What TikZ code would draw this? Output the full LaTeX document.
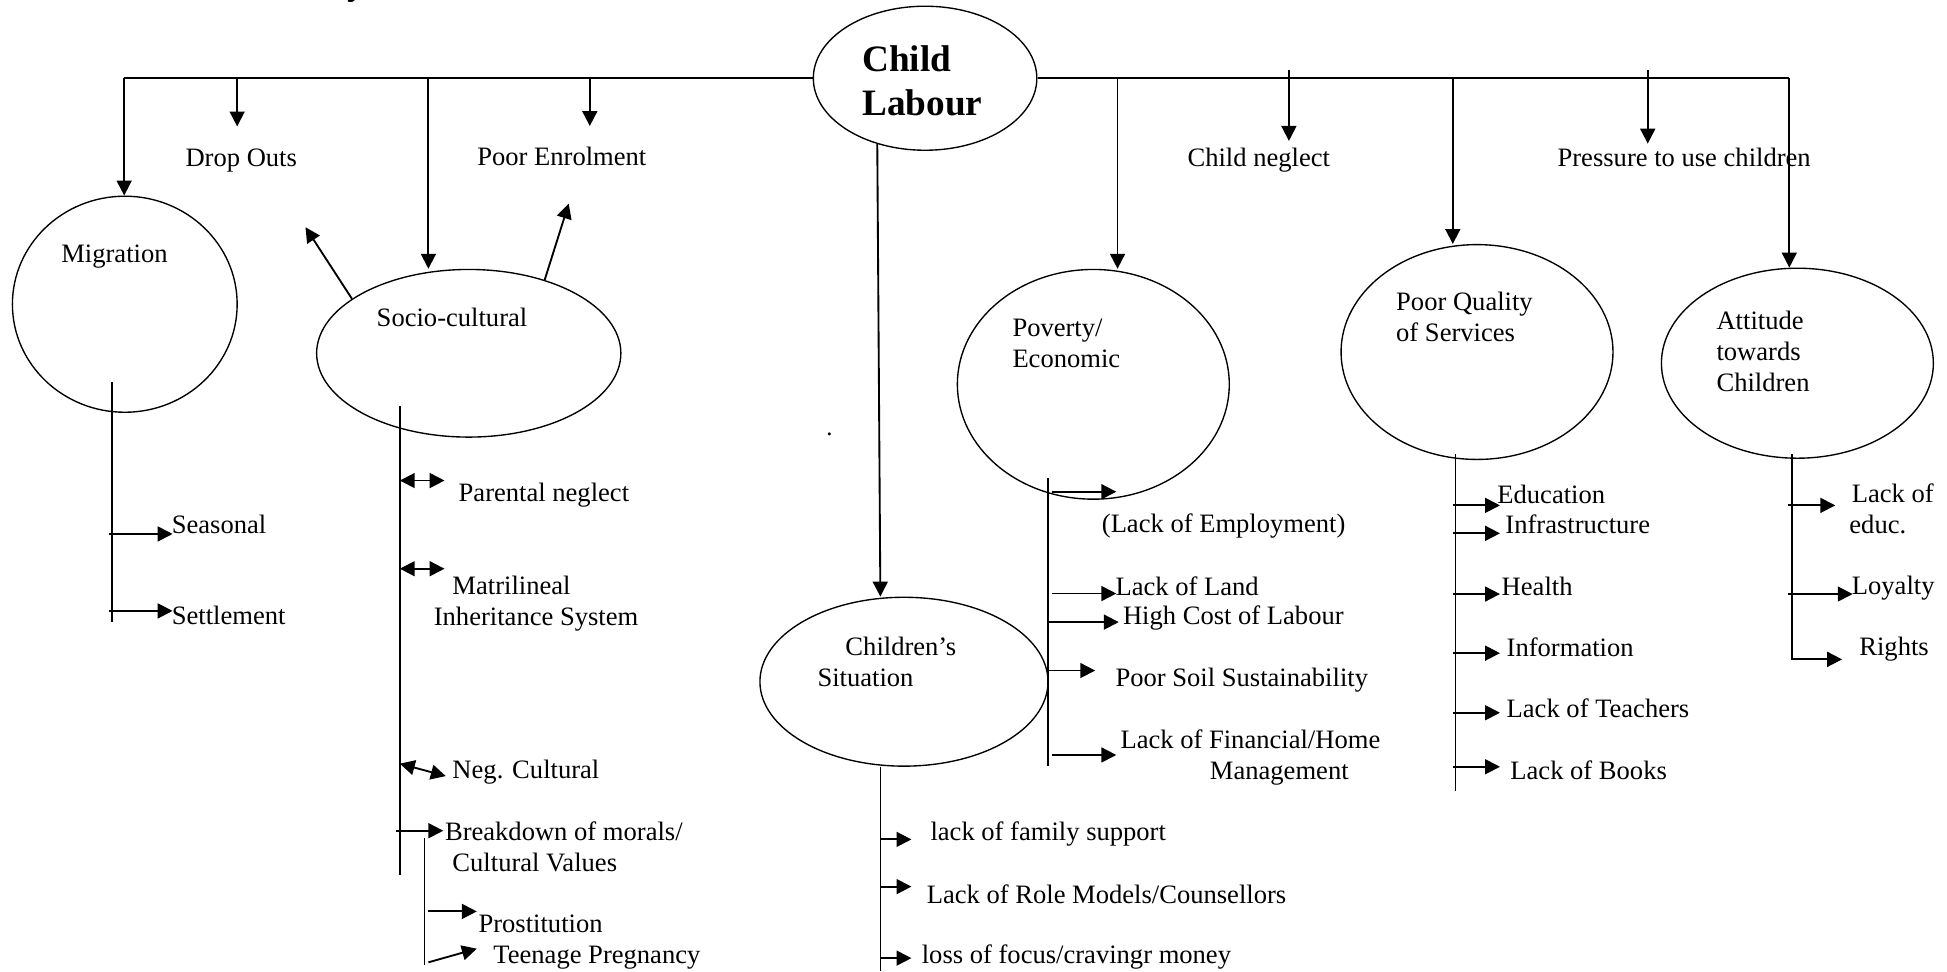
\documentclass[tikz,border=0pt]{standalone}
\usepackage{fontspec}
\setmainfont{Liberation Serif}
\usetikzlibrary{arrows.meta,shapes.geometric,positioning}

\begin{document}
\begin{tikzpicture}[x=0.5pt,y=-0.5pt,
  bubble/.style={draw,ellipse,line width=0.55pt,inner sep=0pt},
  lbl/.style={anchor=west,inner sep=0pt,align=left,font=\fontsize{10.7}{12.5}\selectfont},
  conn/.style={line width=0.75pt},
  spine/.style={line width=0.6pt},
  arr/.style={line width=0.75pt,-{Triangle[length=6pt,width=6pt]}},
  dblarr/.style={line width=0.75pt,{Triangle[length=6pt,width=6pt]}-{Triangle[length=6pt,width=6pt]}}]

\useasboundingbox (0,0) rectangle (1568,782);

\node[inner sep=0pt,anchor=base,font=\bfseries\fontsize{15}{18}\selectfont] (titlefrag) at (287,-4.5) {y};

\node[bubble,minimum width=90pt,minimum height=58pt] (cl) at (745,63) {};
\node[bubble,minimum width=90.5pt,minimum height=87pt] (mig) at (100.5,245) {};
\node[bubble,minimum width=122.5pt,minimum height=67.5pt] (soc) at (377.5,284.5) {};
\node[bubble,minimum width=109.5pt,minimum height=92.5pt] (pov) at (880.5,309.5) {};
\node[bubble,minimum width=109.5pt,minimum height=86.5pt] (qual) at (1189.5,283.5) {};
\node[bubble,minimum width=109.5pt,minimum height=76.5pt] (att) at (1447.5,292.5) {};
\node[bubble,minimum width=116pt,minimum height=68pt] (sit) at (728,549) {};

\node[lbl,font=\bfseries\fontsize{15}{18}\selectfont] (cllab) at (694,65) {Child\\Labour};
\node[lbl] (miglab) at (49,207) {Migration};
\node[lbl] (soclab) at (303,256) {Socio-cultural};
\node[lbl] (povlab) at (815,276.5) {Poverty/\\Economic};
\node[lbl] (quallab) at (1124,255) {Poor Quality\\of Services};
\node[lbl] (attlab) at (1382,283) {Attitude\\towards\\Children};
\node[lbl] (sitlab) at (658,533) {\hspace*{11.25pt}Children's\\Situation};

\node[lbl] (dropouts) at (149,129) {Drop Outs};
\node[lbl] (enrol) at (384,126) {Poor Enrolment};
\node[lbl] (neglect) at (956,129) {Child neglect};
\node[lbl] (pressure) at (1254,127) {Pressure to use children};

\coordinate (jmig) at (100,63);
\coordinate (jdrop) at (191,63);
\coordinate (jsoc) at (345,63);
\coordinate (jenrol) at (475,63);
\coordinate (jpov) at (900,63);
\coordinate (jneg) at (1038,56);
\coordinate (jqual) at (1170,63);
\coordinate (jpress) at (1327,56);
\coordinate (jatt) at (1441,63);

\draw[conn] (jmig) -- (cl.west) (cl.east) -- (jatt);
\draw[arr] (jmig) -- (jmig |- mig.north);
\draw[arr,shorten >=8.7pt] (jdrop) -- (jdrop |- dropouts.north);
\draw[arr] (jsoc) -- (jsoc |- soc.north);
\draw[arr,shorten >=8.3pt] (jenrol) -- (jenrol |- enrol.north);
\draw[arr] (jpov) -- (jpov |- pov.north);
\draw[arr,shorten >=2.7pt] (jneg) -- (jneg |- neglect.north);
\draw[arr] (jqual) -- (jqual |- qual.north);
\draw[arr,shorten >=1.7pt] (jpress) -- (jpress |- pressure.north);
\draw[arr] (jatt) -- (jatt |- att.north);
\draw[arr] (cl.234) -- ([xshift=-9.5pt]sit.north);

\coordinate (dropend) at (246,183);
\coordinate (enrolend) at (458,164);
\draw[arr] (soc.155) -- (dropend);
\draw[arr] (soc.44) -- (enrolend);

\node (dot) at (668,350) {.};

% migration
\coordinate (migs) at (90,308);
\coordinate (mige) at (90,501);
\draw[spine] (migs) -- (mige);
\foreach \y in {430,492}
  \draw[arr] (migs |- 0,\y) ++(-2,0) -- ++(51,0);
\node[lbl] (seasonal) at (138,422) {Seasonal};
\node[lbl] (settle) at (138,496) {Settlement};

% socio-cultural
\coordinate (socs) at (322,327);
\coordinate (soce) at (322,705);
\draw[spine] (socs) -- (soce);
\foreach \y in {387,458}
  \draw[dblarr] (socs |- 0,\y) -- ++(36,0);
\draw[dblarr] (socs |- 0,615) -- ++(37,10);
\draw[arr] (socs |- 0,669) ++(-3,0) -- ++(38,0);
\node[lbl] (parental) at (369,399) {Parental neglect};
\node[lbl] (matri) at (349,486) {\hspace*{7.5pt}Matrilineal\\Inheritance System};
\node[lbl] (negcult) at (364,622) {Neg. Cultural};
\node[lbl] (breakdown) at (358,682) {Breakdown of morals/\\\hspace*{3pt}Cultural Values};
\coordinate (subs) at (342,675);
\coordinate (sube) at (342,777);
\draw[spine] (subs) -- (sube);
\draw[arr] (subs |- 0,734) ++(3,0) -- ++(39,0);
\draw[arr] (subs |- 0,775) ++(3,0) -- ++(39,-11);
\node[lbl] (prost) at (385,744) {Prostitution};
\node[lbl] (teen) at (397,771) {Teenage Pregnancy};

% poverty
\coordinate (povs) at (844,385);
\coordinate (pove) at (844,617);
\draw[spine] (povs) -- (pove);
\foreach \y/\a/\l in {396/3/52,478/3/52,501/0/57,540/0/38,608/3/52}
  \draw[arr] (povs |- 0,\y) ++(\a,0) -- ++(\l,0);
\node[lbl] (employ) at (887,424) {(Lack of Employment)};
\node[lbl] (land) at (898,472) {Lack of Land};
\node[lbl] (cost) at (904,498) {High Cost of Labour};
\node[lbl] (soil) at (898,548) {Poor Soil Sustainability};
\node[lbl] (finance) at (902,610) {Lack of Financial/Home\\\hspace*{36pt}Management};

% children's situation
\coordinate (site) at (709,782);
\draw[spine] ([xshift=-9.5pt]sit.south) -- (site);
\foreach \y in {676,714,771.6}
  \draw[arr] (site |- 0,\y) -- ++(25,0);
\node[lbl] (family) at (749,672) {lack of family support};
\node[lbl] (role) at (746,720) {Lack of Role Models/Counsellors};
\node[lbl] (focus) at (742,771) {loss of focus/cravingr money};

% quality of services
\coordinate (quals) at (1172,366);
\coordinate (quale) at (1172,637);
\draw[spine] (quals) -- (quale);
\foreach \y in {407,429.5,478.4,526,574,617.5}
  \draw[arr] (quals |- 0,\y) ++(-2,0) -- ++(38,0);
\node[lbl] (educ) at (1205.5,398) {Education};
\node[lbl] (infra) at (1212,422) {Infrastructure};
\node[lbl] (health) at (1209,472) {Health};
\node[lbl] (info) at (1213,521) {Information};
\node[lbl] (teach) at (1213,570) {Lack of Teachers};
\node[lbl] (books) at (1216,620) {Lack of Books};

% attitude
\coordinate (atts) at (1443,366);
\coordinate (rightsend) at (1483.5,531);
\draw[arr] (atts) |- (rightsend);
\draw[arr] (atts |- 0,407) ++(-3,0) -- ++(38,0);
\draw[arr] (atts |- 0,478.4) ++(-3,0) -- ++(52,0);
\node[lbl] (lackeduc) at (1489,410) {\hspace*{1pt}Lack of\\educ.};
\node[lbl] (loyal) at (1491,474) {Loyalty};
\node[lbl] (rights) at (1497,523) {Rights};

\end{tikzpicture}
\end{document}
